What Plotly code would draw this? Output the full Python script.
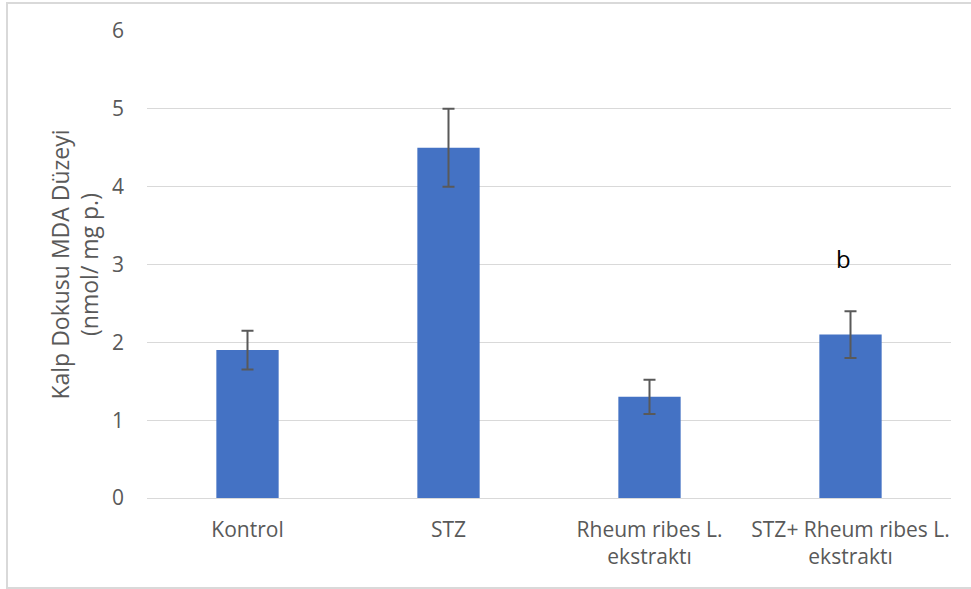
import plotly.graph_objects as go

# Heart tissue MDA levels by group
groups = ["Kontrol", "STZ", "Rheum ribes L.<br>ekstraktı", "STZ+ Rheum ribes L.<br>ekstraktı"]
mda_values = [1.9, 4.5, 1.3, 2.1]
mda_errors = [0.25, 0.5, 0.22, 0.3]
sig_label = "b"
sig_group_index = 3
sig_y = 3.06

W, H = 971, 589
L, R, T, B = 147, 20, 31, 91
pw, ph = W - L - R, H - T - B

grey_text = "#595959"
grid = "#d9d9d9"
font_family = "'Open Sans', sans-serif"

fig = go.Figure()
fig.add_trace(go.Bar(
    x=groups,
    y=mda_values,
    marker=dict(color="#4472C4", line=dict(width=0)),
    error_y=dict(type="data", array=mda_errors, visible=True,
                 color=grey_text, thickness=2, width=6),
    width=0.31,
))

fig.add_annotation(
    x=groups[sig_group_index], y=sig_y, text=sig_label, showarrow=False,
    xshift=-7, yshift=1, font=dict(size=24, color="#000000", family=font_family),
)

# outer chart frame (left, top, bottom)
def px_to_paper_x(px):
    return (px - L) / pw

def px_to_paper_y(py):
    return (H - B - py) / ph

fx0, fx1 = px_to_paper_x(7), px_to_paper_x(990)
fy0, fy1 = px_to_paper_y(588), px_to_paper_y(3)
fig.add_shape(type="path", xref="paper", yref="paper",
              path=f"M {fx1},{fy1} L {fx0},{fy1} L {fx0},{fy0} L {fx1},{fy0}",
              line=dict(color=grid, width=2))

fig.update_layout(
    width=W, height=H,
    margin=dict(l=L, r=R, t=T, b=B),
    paper_bgcolor="white", plot_bgcolor="white",
    showlegend=False,
    font=dict(family=font_family, color=grey_text, size=21),
    xaxis=dict(showgrid=False, showline=False, ticks="",
               ticklabelstandoff=17,
               tickfont=dict(size=21, color=grey_text)),
    yaxis=dict(range=[0, 6], dtick=1, showgrid=True, gridcolor=grid, gridwidth=1,
               zeroline=True, zerolinecolor=grid, zerolinewidth=1,
               showline=False, ticks="", ticklabelstandoff=22,
               tickfont=dict(size=21, color=grey_text),
               title=dict(text="Kalp Dokusu MDA Düzeyi<br>(nmol/ mg p.)",
                          font=dict(size=23, color=grey_text), standoff=6)),
)

fig.write_html("out.html")
